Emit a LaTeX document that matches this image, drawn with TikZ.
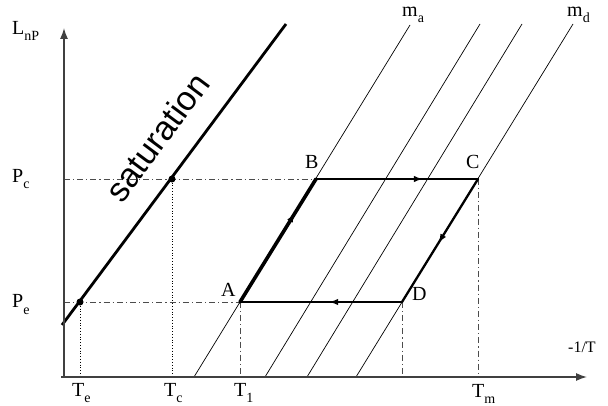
\documentclass[tikz,border=0pt]{standalone}
\usepackage{fontspec}
\setmainfont{Liberation Serif}
\newfontfamily\satfont{Liberation Sans}
\usetikzlibrary{arrows.meta,decorations.markings}
\newcommand\sbs[1]{\raisebox{-0.3em}{\fontsize{14}{14}\selectfont #1}}
\begin{document}
\begin{tikzpicture}[x=1pt,y=-1pt,
  axis/.style={line width=1.3pt,draw=black!75,-{Latex[length=11pt,width=8pt]}},
  isoline/.style={line width=0.7pt,black},
  dashdot/.style={line width=0.9pt,black!70,dash pattern=on 6pt off 3pt on 1.2pt off 3pt},
  dotline/.style={line width=1pt,black,dash pattern=on 1pt off 1.8pt},
  cyc/.style={line width=2.3pt,black,line cap=round},
  cycthick/.style={line width=3.6pt,black,line cap=round},
  arrmark/.style={postaction=decorate,decoration={markings,mark=at position #1 with {\arrow{Latex[length=9pt,width=6.5pt]}}}},
  lab/.style={inner sep=0pt,anchor=base west,font=\fontsize{20}{20}\selectfont},
  pt/.style={circle,fill=black,inner sep=0pt,minimum size=7pt}]
\useasboundingbox (0,0) rectangle (608,406);
% coordinates
\coordinate (O) at (64,377);
\coordinate (Ytop) at (64,28);
\coordinate (Xend) at (587,377);
\coordinate (Xst) at (61,377);
\coordinate (S1) at (62,325);
\coordinate (S2) at (286,24);
\coordinate (A) at (240,302);
\coordinate (B) at (316,179);
\coordinate (C) at (478,179);
\coordinate (D) at (402,302);
\coordinate (Pcax) at (64,179);
\coordinate (Peax) at (64,302);
\coordinate (Aax) at (240,377);
\coordinate (Dax) at (402,377);
\coordinate (Cax) at (478,377);
\coordinate (Teax) at (80,377);
\coordinate (Tcax) at (172,377);
\coordinate (L1a) at (194,377); \coordinate (L1b) at (410,25);
\coordinate (L2a) at (265,377); \coordinate (L2b) at (480,24);
\coordinate (L3a) at (307,377); \coordinate (L3b) at (522,24);
\coordinate (L4a) at (356,377); \coordinate (L4b) at (573,24);
% iso lines
\draw[isoline] (L1a) -- (L1b);
\draw[isoline] (L2a) -- (L2b);
\draw[isoline] (L3a) -- (L3b);
\draw[isoline] (L4a) -- (L4b);
% guide lines
\draw[dashdot] (Pcax) -- (B);
\draw[dashdot] (Peax) -- (A);
\draw[dashdot] (A) -- (Aax);
\draw[dashdot] (D) -- (Dax);
\draw[dashdot] (C) -- (Cax);
\node[pt] (Te) at (80,302) {};
\node[pt] (Tc) at (172,179) {};
\draw[dotline] (Te) -- (Teax);
\draw[dotline] (Tc) -- (Tcax);
% saturation line
\draw[line width=2.8pt,black] (S1) -- (S2);
\node[rotate=53.35,inner sep=0pt,font=\satfont\fontsize{34}{34}\selectfont] (sat) at (157,137) {saturation};
% axes
\draw[axis] (O) -- (Ytop);
\draw[axis] (Xst) -- (Xend);
% cycle
\draw[cycthick,arrmark=0.72] (A) -- (B);
\draw[cyc,arrmark=0.66] (B) -- (C);
\draw[cyc,arrmark=0.52] (C) -- (D);
\draw[cyc,arrmark=0.45] (D) -- (A);
% labels
\node[lab] (lA) at (221,297) {A};
\node[lab] (lB) at (305,169) {B};
\node[lab] (lC) at (466,169) {C};
\node[lab] (lD) at (412,300) {D};
\node[lab] (lL) at (12,35) {L\sbs{nP}};
\node[lab] (lPc) at (12,183) {P\sbs{c}};
\node[lab] (lPe) at (12,308) {P\sbs{e}};
\node[lab] (lTe) at (72,396) {T\sbs{e}};
\node[lab] (lTc) at (164,396) {T\sbs{c}};
\node[lab] (lT1) at (234,396) {T\sbs{1}};
\node[lab] (lTm) at (472,397) {T\sbs{m}};
\node[lab,font=\fontsize{16}{16}\selectfont] (lX) at (568,352) {-1/T};
\node[lab] (lma) at (402,17) {m\sbs{a}};
\node[lab] (lmd) at (567,17) {m\sbs{d}};
\end{tikzpicture}
\end{document}
